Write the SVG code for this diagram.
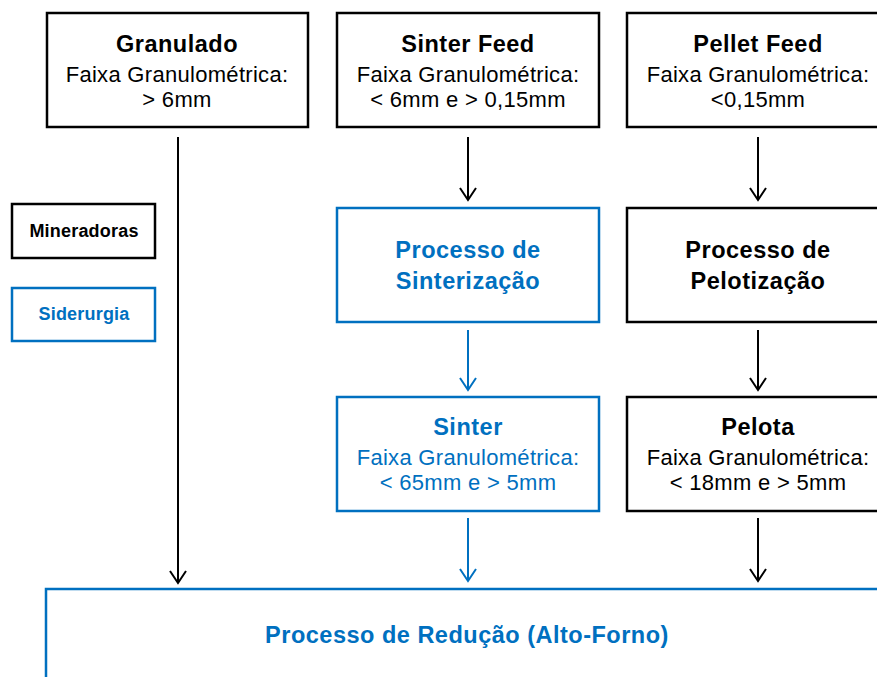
<svg xmlns="http://www.w3.org/2000/svg" width="877" height="677" viewBox="0 0 877 677">
<defs>
<style>
.bk{fill:#fff;stroke:#000;stroke-width:2.5}
.bl{fill:#fff;stroke:#0070C0;stroke-width:2.5}
text{font-family:"Liberation Sans",Arial,sans-serif;text-anchor:middle}
.t{font-weight:bold;font-size:23.5px;letter-spacing:0.5px}
.b{font-size:22px;letter-spacing:0.3px}
.lg{font-weight:bold;font-size:18px;letter-spacing:0.2px}
.k{fill:#000}
.u{fill:#0070C0}
.ck{stroke:#000;stroke-width:2;fill:none}
.cu{stroke:#0070C0;stroke-width:2;fill:none}
</style>
<marker id="ak" markerUnits="userSpaceOnUse" viewBox="0 0 16 18" refX="14" refY="9" markerWidth="16" markerHeight="18" orient="auto"><path d="M2,1 L14,9 L2,17" fill="none" stroke="#000" stroke-width="2"/></marker>
<marker id="au" markerUnits="userSpaceOnUse" viewBox="0 0 16 18" refX="14" refY="9" markerWidth="16" markerHeight="18" orient="auto"><path d="M2,1 L14,9 L2,17" fill="none" stroke="#0070C0" stroke-width="2"/></marker>
</defs>
<rect width="877" height="677" fill="#fff"/>
<g id="connectors">
<line class="ck" x1="178" y1="137" x2="178" y2="583" marker-end="url(#ak)"/>
<line class="ck" x1="468" y1="137" x2="468" y2="200" marker-end="url(#ak)"/>
<line class="ck" x1="758" y1="137" x2="758" y2="200" marker-end="url(#ak)"/>
<line class="cu" x1="468" y1="330" x2="468" y2="390" marker-end="url(#au)"/>
<line class="ck" x1="758" y1="330" x2="758" y2="390" marker-end="url(#ak)"/>
<line class="cu" x1="468" y1="518" x2="468" y2="581" marker-end="url(#au)"/>
<line class="ck" x1="758" y1="518" x2="758" y2="581" marker-end="url(#ak)"/>
</g>
<g id="granulado">
<rect class="bk" x="47" y="13" width="261" height="114"/>
<text class="t k" x="177" y="52">Granulado</text>
<text class="b k" x="177" y="82">Faixa Granulométrica:</text>
<text class="b k" x="177" y="107">&gt; 6mm</text>
</g>
<g id="sinter-feed">
<rect class="bk" x="337" y="13" width="262" height="114"/>
<text class="t k" x="468" y="52">Sinter Feed</text>
<text class="b k" x="468" y="82">Faixa Granulométrica:</text>
<text class="b k" x="468" y="107">&lt; 6mm e &gt; 0,15mm</text>
</g>
<g id="pellet-feed">
<rect class="bk" x="627" y="13" width="262" height="114"/>
<text class="t k" x="758" y="52">Pellet Feed</text>
<text class="b k" x="758" y="82">Faixa Granulométrica:</text>
<text class="b k" x="758" y="107">&lt;0,15mm</text>
</g>
<g id="legend-mineradoras">
<rect class="bk" x="12" y="204" width="143" height="54"/>
<text class="lg k" x="84" y="237">Mineradoras</text>
</g>
<g id="legend-siderurgia">
<rect class="bl" x="12" y="288" width="143" height="53"/>
<text class="lg u" x="84" y="320">Siderurgia</text>
</g>
<g id="sinterizacao">
<rect class="bl" x="337" y="208" width="262" height="114"/>
<text class="t u" x="468" y="258">Processo de</text>
<text class="t u" x="468" y="289">Sinterização</text>
</g>
<g id="pelotizacao">
<rect class="bk" x="627" y="208" width="262" height="114"/>
<text class="t k" x="758" y="258">Processo de</text>
<text class="t k" x="758" y="289">Pelotização</text>
</g>
<g id="sinter">
<rect class="bl" x="337" y="397" width="262" height="114"/>
<text class="t u" x="468" y="435">Sinter</text>
<text class="b u" x="468" y="465">Faixa Granulométrica:</text>
<text class="b u" x="468" y="490">&lt; 65mm e &gt; 5mm</text>
</g>
<g id="pelota">
<rect class="bk" x="627" y="397" width="262" height="114"/>
<text class="t k" x="758" y="435">Pelota</text>
<text class="b k" x="758" y="465">Faixa Granulométrica:</text>
<text class="b k" x="758" y="490">&lt; 18mm e &gt; 5mm</text>
</g>
<g id="reducao">
<rect class="bl" x="46" y="589" width="860" height="120"/>
<text class="t u" x="467" y="643">Processo de Redução (Alto-Forno)</text>
</g>
</svg>
